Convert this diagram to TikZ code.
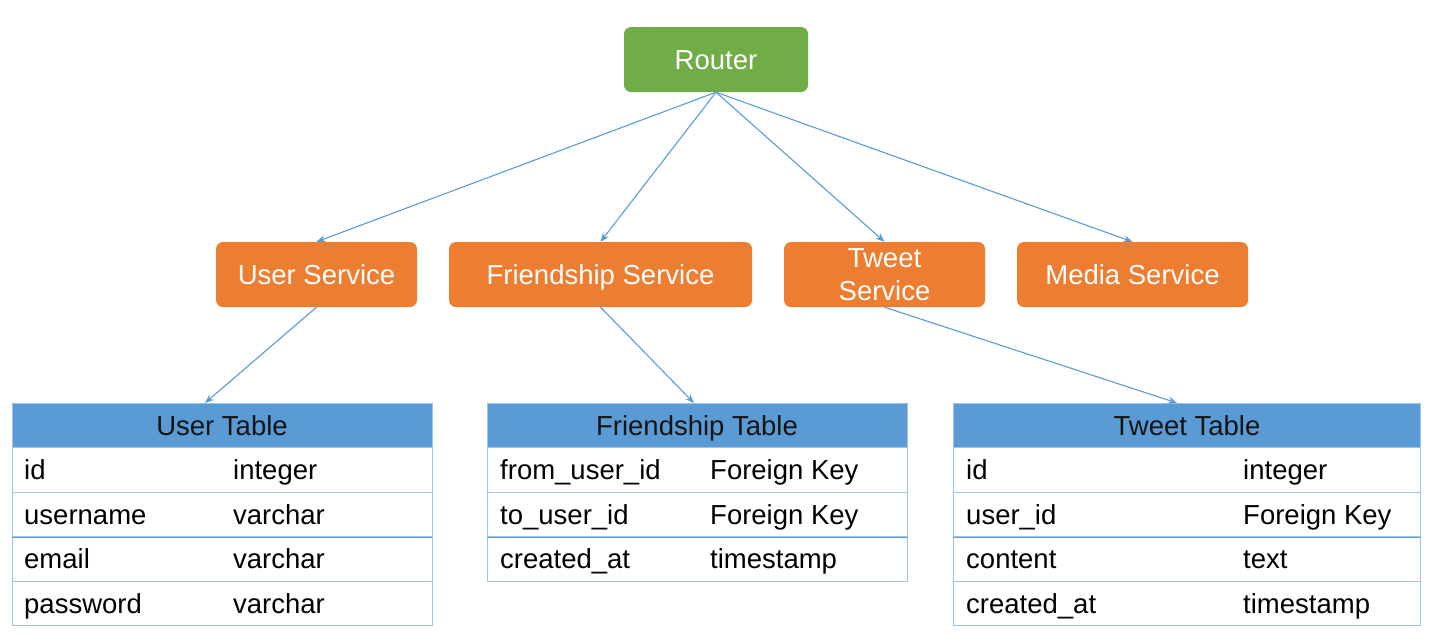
\documentclass[tikz,border=0pt]{standalone}
\usepackage{fontspec}
\setmainfont{Liberation Sans}
\usetikzlibrary{arrows.meta}
\definecolor{rgreen}{HTML}{70AD47}
\definecolor{sorange}{HTML}{ED7D31}
\definecolor{tblue}{HTML}{5B9BD5}
\definecolor{tlight}{HTML}{9DC3E6}
\definecolor{htext}{HTML}{141414}
\begin{document}
\begin{tikzpicture}[x=1pt,y=-1pt,
  box/.style={rectangle, rounded corners=7pt, text=white, inner sep=0pt,
    text height=19.7pt, text depth=0pt,
    minimum height=65pt, align=center, font=\fontsize{27.5}{33}\selectfont},
  routerbox/.style={box, fill=rgreen},
  svcbox/.style={box, fill=sorange},
  conn/.style={draw=tblue, line width=1.1pt, -{Stealth[length=9pt,width=7pt]}},
  headbox/.style={rectangle, fill=tblue, draw=tlight, line width=0.8pt, inner sep=0pt,
    text height=19.7pt, text depth=0pt,
    minimum height=45pt, text=htext, font=\fontsize{27.5}{33}\selectfont},
  rowbox/.style={rectangle, draw=tlight, fill=white, line width=0.8pt, inner sep=0pt, minimum height=44.5pt},
  cell/.style={anchor=west, inner sep=0pt, text height=19.7pt, text depth=0pt, text=black,
    font=\fontsize{27.5}{33}\selectfont},
  sep/.style={draw=tblue!85!tlight, line width=1.3pt}
]
\useasboundingbox (0,0) rectangle (1440,641);

% top level
\node[routerbox, minimum width=184pt] (router) at (716,59.5) {Router};
\node[svcbox, minimum width=201pt] (us) at (316.5,274.5) {User Service};
\node[svcbox, minimum width=303pt] (fs) at (600.5,274.5) {Friendship Service};
\node[svcbox, minimum width=201pt, text height=52.7pt] (ts) at (884.5,274.5) {Tweet\\Service};
\node[svcbox, minimum width=231pt] (ms) at (1132.5,274.5) {Media Service};

% User table
\node[headbox, minimum width=420pt] (uth) at (222,425.5) {User Table};
\node[rowbox, minimum width=420pt] (ur1) at (222,470) {};
\node[rowbox, minimum width=420pt] (ur2) at (222,514.5) {};
\node[rowbox, minimum width=420pt] (ur3) at (222,559) {};
\node[rowbox, minimum width=420pt] (ur4) at (222,603.5) {};
\draw[sep] (ur2.south west) -- (ur2.south east);
\node[cell] (u1a) at (24,470) {id};
\node[cell] (u1b) at (233,470) {integer};
\node[cell] (u2a) at (24,514.5) {username};
\node[cell] (u2b) at (233,514.5) {varchar};
\node[cell] (u3a) at (24,559) {email};
\node[cell] (u3b) at (233,559) {varchar};
\node[cell] (u4a) at (24,603.5) {password};
\node[cell] (u4b) at (233,603.5) {varchar};

% Friendship table
\node[headbox, minimum width=420pt] (fth) at (697,425.5) {Friendship Table};
\node[rowbox, minimum width=420pt] (fr1) at (697,470) {};
\node[rowbox, minimum width=420pt] (fr2) at (697,514.5) {};
\node[rowbox, minimum width=420pt] (fr3) at (697,559) {};
\draw[sep] (fr2.south west) -- (fr2.south east);
\node[cell] (f1a) at (500,470) {from\_user\_id};
\node[cell] (f1b) at (710,470) {Foreign Key};
\node[cell] (f2a) at (500,514.5) {to\_user\_id};
\node[cell] (f2b) at (710,514.5) {Foreign Key};
\node[cell] (f3a) at (500,559) {created\_at};
\node[cell] (f3b) at (710,559) {timestamp};

% Tweet table
\node[headbox, minimum width=467pt] (tth) at (1187,425.5) {Tweet Table};
\node[rowbox, minimum width=467pt] (tr1) at (1187,470) {};
\node[rowbox, minimum width=467pt] (tr2) at (1187,514.5) {};
\node[rowbox, minimum width=467pt] (tr3) at (1187,559) {};
\node[rowbox, minimum width=467pt] (tr4) at (1187,603.5) {};
\draw[sep] (tr2.south west) -- (tr2.south east);
\node[cell] (t1a) at (966,470) {id};
\node[cell] (t1b) at (1243,470) {integer};
\node[cell] (t2a) at (966,514.5) {user\_id};
\node[cell] (t2b) at (1243,514.5) {Foreign Key};
\node[cell] (t3a) at (966,559) {content};
\node[cell] (t3b) at (1243,559) {text};
\node[cell] (t4a) at (966,603.5) {created\_at};
\node[cell] (t4b) at (1243,603.5) {timestamp};

% connector ends
\coordinate (utin) at (205,403);
\coordinate (ftin) at (694,403);
\coordinate (ttin) at (1177,403);

% connectors
\draw[conn] (router.south) -- (us.north);
\draw[conn] (router.south) -- (fs.north);
\draw[conn] (router.south) -- (ts.north);
\draw[conn] (router.south) -- (ms.north);
\draw[conn] (us.south) -- (utin);
\draw[conn] (fs.south) -- (ftin);
\draw[conn] (ts.south) -- (ttin);
\end{tikzpicture}
\end{document}
